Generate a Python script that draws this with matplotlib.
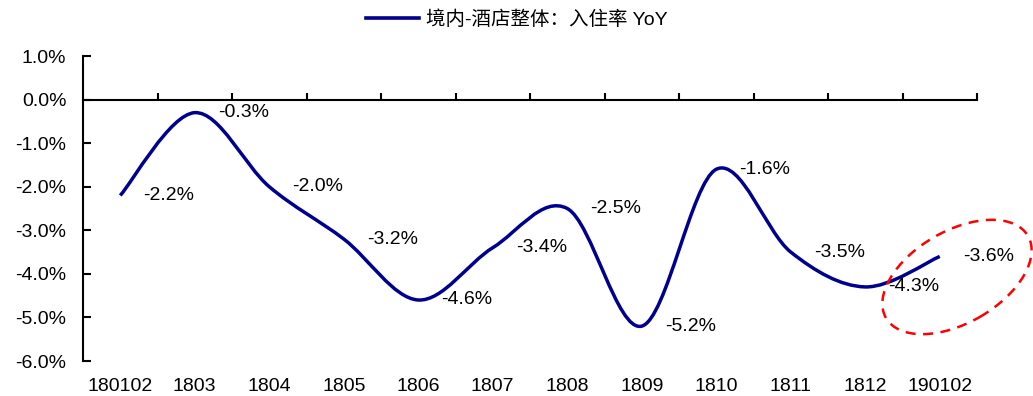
import matplotlib
matplotlib.use("Agg")
import matplotlib.pyplot as plt
import numpy as np
from matplotlib.path import Path
from matplotlib.patches import PathPatch, Ellipse
from matplotlib.lines import Line2D
from matplotlib.transforms import IdentityTransform
from matplotlib.ticker import FuncFormatter

plt.rcParams['font.family'] = ['Liberation Sans', 'Noto Sans CJK SC']

# 境内酒店整体入住率同比
months = ["180102", "1803", "1804", "1805", "1806", "1807",
          "1808", "1809", "1810", "1811", "1812", "190102"]
occ_yoy = [-2.2, -0.3, -2.0, -3.2, -4.6, -3.4, -2.5, -5.2, -1.6, -3.5, -4.3, -3.6]
series_name = "境内-酒店整体：入住率 YoY"

navy = "#00008f"
fs = 14

fig = plt.figure(figsize=(10.33, 3.96), dpi=100)
ax = fig.add_axes([83 / 1033, 35 / 396, 894 / 1033, 305 / 396])

x = np.arange(len(months))
y = np.array(occ_yoy)

# smoothed line as cubic bezier segments through the points
pts = np.column_stack([x, y])
ext = np.vstack([pts[0], pts, pts[-1]])
verts = [tuple(pts[0])]
codes = [Path.MOVETO]
for i in range(len(pts) - 1):
    p0, p1, p2, p3 = ext[i], ext[i + 1], ext[i + 2], ext[i + 3]
    c1 = p1 + (p2 - p0) / 6
    c2 = p2 - (p3 - p1) / 6
    verts += [tuple(c1), tuple(c2), tuple(p2)]
    codes += [Path.CURVE4] * 3
ax.add_patch(PathPatch(Path(verts, codes), fill=False, edgecolor=navy,
                       lw=2.5, capstyle='butt', joinstyle='round'))

for xi, yi in zip(x, y):
    ax.annotate(f"{yi:.1f}%", (xi, yi), xytext=(16.5, 0), textcoords='offset points',
                ha='left', va='center', fontsize=fs, color='black')

ax.set_xlim(-0.5, len(months) - 0.5)
ax.set_ylim(-6, 1)
ax.set_yticks(np.arange(-6, 1.5, 1))
ax.yaxis.set_major_formatter(FuncFormatter(lambda v, p: f"{v:.1f}%"))
ax.tick_params(axis='y', direction='in', length=6, width=1.5, labelsize=fs, pad=12)

for s in ['top', 'right']:
    ax.spines[s].set_visible(False)
ax.spines['left'].set_linewidth(1.5)
ax.spines['bottom'].set_position(('data', 0))
ax.spines['bottom'].set_linewidth(1.5)
ax.spines['bottom'].set_bounds(-0.5, len(months) - 0.5)
ax.set_xticks(np.arange(0.5, len(months), 1))
ax.tick_params(axis='x', direction='in', length=5, width=1.5, labelbottom=False)

# category labels along the bottom edge
sec = ax.secondary_xaxis('bottom')
sec.set_xticks(x)
sec.set_xticklabels(months)
sec.spines['bottom'].set_visible(False)
sec.tick_params(axis='x', length=0, labelsize=fs, pad=12)

handle = Line2D([], [], color=navy, lw=2.6)
fig.legend([handle], [series_name], loc='center', bbox_to_anchor=(517 / 1033, 1 - 20 / 396),
           frameon=False, fontsize=fs, handlelength=2.7, handletextpad=0.4)

# highlight the latest reading
fig.add_artist(Ellipse((957, 396 - 277), 164, 92, angle=30, transform=IdentityTransform(),
                       fill=False, edgecolor='#ff0000', lw=1.8, ls=(0, (4, 3))))

fig.savefig("out.png", dpi=100)
